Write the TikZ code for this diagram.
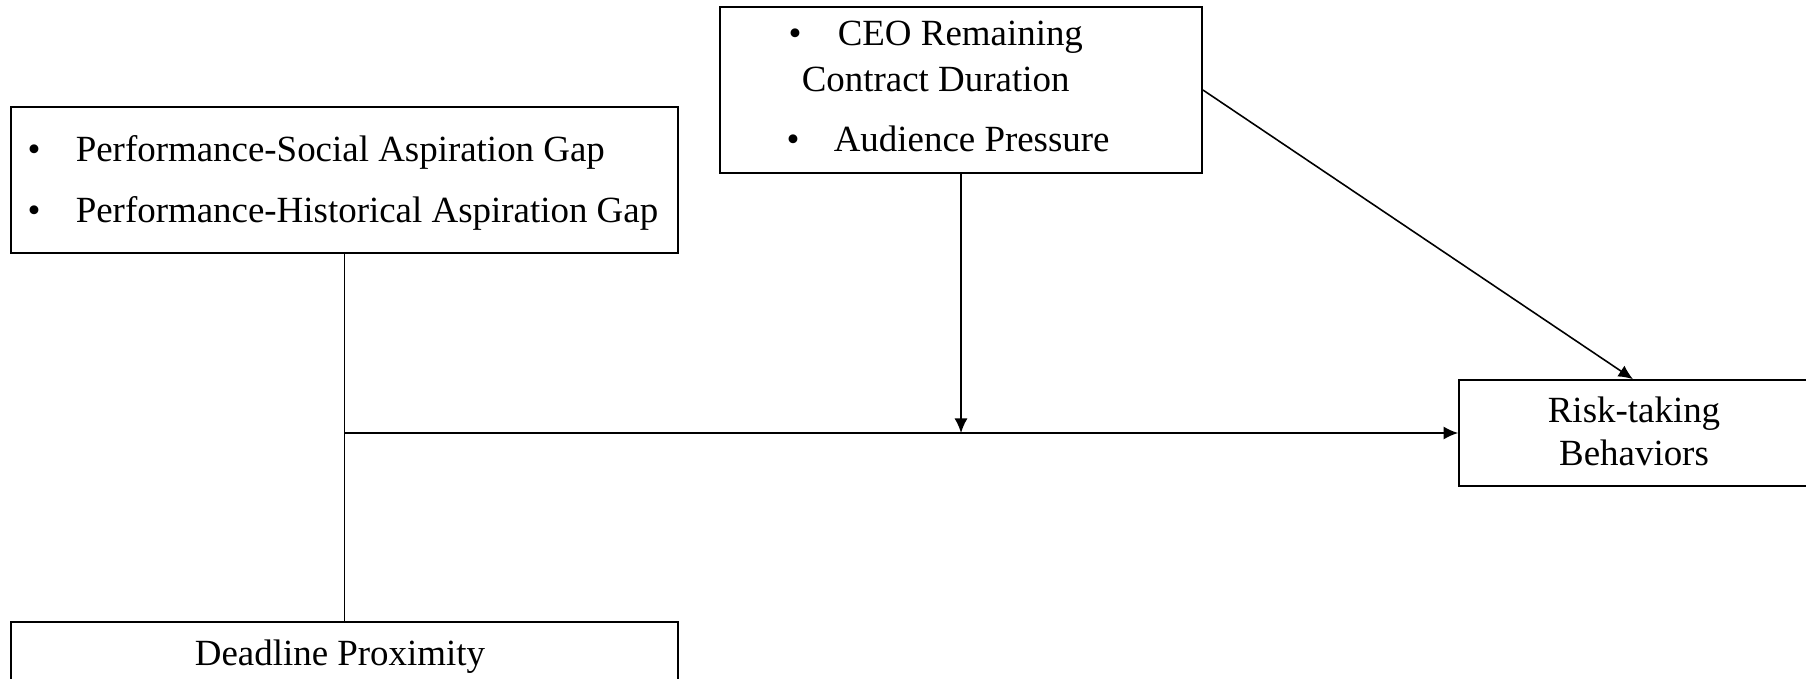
\documentclass[tikz,border=0pt]{standalone}
\usepackage{fontspec}
\setmainfont{Liberation Serif}
\usetikzlibrary{arrows.meta}

\tikzset{
	box/.style={draw, line width=0.45pt, inner sep=0pt},
	txt/.style={inner sep=0pt, font=\fontsize{10.5}{12}\selectfont},
	>={Latex[length=1.45mm,width=1.3mm]}
}

\begin{document}
\begin{tikzpicture}[x=0.01cm, y=-0.01cm, line width=0.45pt]

		\useasboundingbox (0,0) rectangle (1806,679);
		\clip (0,0) rectangle (1806,679);

		\node[box, minimum width=6.67cm, minimum height=1.46cm] (b1) at ( 344.5, 180) {};
		\node[box, minimum width=4.82cm, minimum height=1.66cm] (b2) at ( 961, 90) {};
		\node[box, minimum width=3.48cm, minimum height=1.06cm] (b3) at (1633, 433) {};
		\node[box, minimum width=6.67cm, minimum height=1.00cm] (b4) at ( 344.5, 672) {};

		\node[txt, anchor=base] (d1) at ( 34, 162) {•};
		\node[txt, anchor=base west] (t1) at ( 75, 162) {Performance-Social Aspiration Gap};
		\node[txt, anchor=base] (d2) at ( 34, 222) {•};
		\node[txt, anchor=base west] (t2) at ( 75, 222) {Performance-Historical Aspiration Gap};

		\node[txt, anchor=base] (d3) at ( 795, 46) {•};
		\node[txt, anchor=base west] (t3) at ( 837, 46) {CEO Remaining};
		\node[txt, anchor=base west] (t4) at ( 801, 92) {Contract Duration};
		\node[txt, anchor=base] (d4) at ( 793, 152) {•};
		\node[txt, anchor=base west] (t5) at ( 833, 152) {Audience Pressure};

		\node[txt, anchor=base] (t6) at (1634, 422) {Risk-taking};
		\node[txt, anchor=base] (t7) at (1634, 465) {Behaviors};

		\node[txt, anchor=base] (t8) at ( 340, 665) {Deadline Proximity};

		\coordinate (j) at (b1.south |- b3.west);

		\draw[-] (b1.south) to (b4.north);
		\draw[->] (j) to (b3.west);
		\draw[->] (b2.south) to (b2.south |- j);
		\draw[->] (b2.east) to (b3.north);

	\end{tikzpicture}
\end{document}
